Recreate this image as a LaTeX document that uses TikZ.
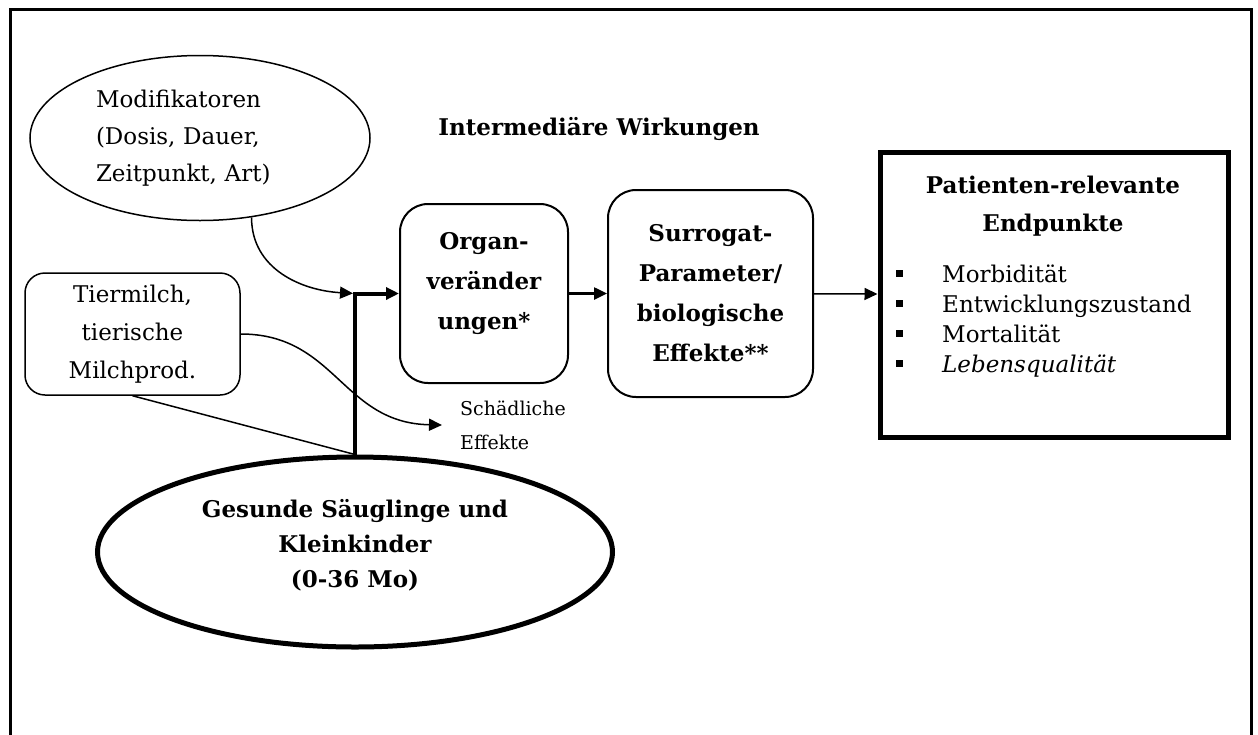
\documentclass[tikz,border=0pt]{standalone}
\usepackage{fontspec}
\setmainfont{DejaVu Serif}
\usetikzlibrary{arrows.meta,positioning,shapes.geometric}
\newcommand{\bul}{\makebox[46pt][l]{\raisebox{5pt}{\rule{7pt}{7pt}}}}
\tikzset{
  oval/.style={draw,ellipse,line width=1.5pt,align=left,inner sep=0pt,
    font=\fontsize{23}{37}\selectfont},
  bigoval/.style={draw,ellipse,line width=5pt,align=center,inner sep=0pt,
    font=\bfseries\fontsize{23}{35}\selectfont},
  source/.style={draw,rounded corners=20pt,line width=1.5pt,align=center,
    inner sep=0pt,font=\fontsize{23}{38}\selectfont},
  effect/.style={draw,rounded corners=28pt,line width=2pt,align=center,
    inner sep=0pt,font=\bfseries\fontsize{23}{40}\selectfont},
  endbox/.style={draw,line width=5pt,inner sep=0pt},
  heading/.style={align=center,inner sep=0pt,font=\bfseries\fontsize{23}{38}\selectfont},
  itemlist/.style={align=left,inner sep=0pt,font=\fontsize{23}{30}\selectfont},
  smalltext/.style={align=left,inner xsep=18pt,inner ysep=0pt,font=\fontsize{19}{34}\selectfont},
  arrow/.style={-{Triangle[length=13pt,width=12pt]},line width=1.5pt},
  midarrow/.style={-{Triangle[length=13pt,width=12pt]},line width=2.5pt},
  thickarrow/.style={-{Triangle[length=13pt,width=12pt]},line width=4pt},
  link/.style={line width=1.5pt},
  frame/.style={line width=3pt}
}
\begin{document}
\begin{tikzpicture}[x=1pt,y=-1pt]
  \useasboundingbox (0,0) rectangle (1258,734);
  \draw[frame] (10,9) rectangle (1251,760);

  % inputs
  \node[oval,minimum width=340pt,minimum height=165pt,text width=208pt] (mod) at (200,138)
    {Modifikatoren\\(Dosis, Dauer,\\Zeitpunkt, Art)};
  \node[source,minimum width=215pt,minimum height=122pt] (tier) at (132.5,334)
    {Tiermilch,\\tierische\\Milchprod.};
  \node[bigoval,minimum width=515pt,minimum height=190pt] (ges) at (355,552)
    {Gesunde Säuglinge und\\Kleinkinder\\(0-36 Mo)\\[-18pt]\mbox{}};

  % intermediate effects
  \node[heading] (inter) at (599,129) {Intermediäre Wirkungen};
  \node[effect,minimum width=168pt,minimum height=179pt] (organ) at (484,293.5)
    {Organ-\\veränder\\ungen*\\[-15pt]\mbox{}};
  \node[effect,minimum width=205pt,minimum height=207pt] (surr) at (710.5,293.5)
    {Surrogat-\\Parameter/\\biologische\\Effekte**};

  % endpoints
  \node[endbox,minimum width=348pt,minimum height=285pt] (pat) at (1054,294.5) {};
  \node[heading] (pattitle) at (1053,206) {Patienten-relevante\\Endpunkte};
  \node[itemlist,anchor=west] (items) at (896,321)
    {\bul Morbidität\\\bul Entwicklungszustand\\\bul Mortalität\\\bul\textit{Lebensqualität}};

  \node[smalltext,anchor=west] (schad) at (442,425) {Schädliche\\Effekte};

  % connectors
  \coordinate (join) at (ges.north |- organ.west);
  \draw[link] (tier.south) -- (ges.north);
  \draw[thickarrow] (ges.north) |- (organ.west);
  \draw[arrow,shorten >=2pt] (mod.303) .. controls +(0,52) and +(-53,-3) .. (join);
  \draw[arrow] (tier.east) .. controls +(95,0) and +(-100,-2) .. (schad.west);
  \draw[midarrow] (organ) -- (surr);
  \draw[arrow] (surr) -- (pat);
\end{tikzpicture}
\end{document}
